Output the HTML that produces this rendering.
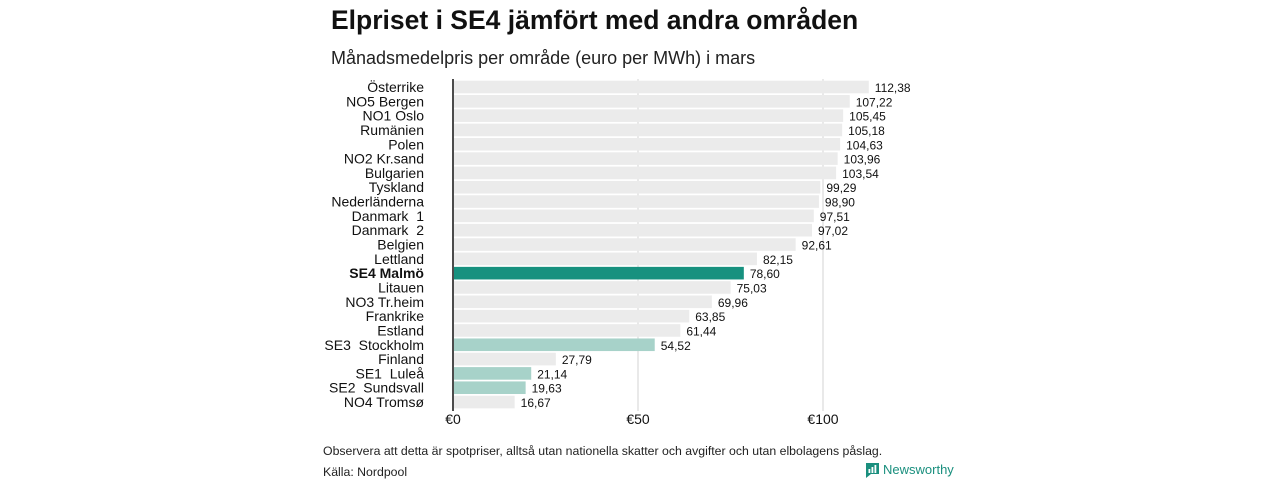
<!DOCTYPE html>
<html><head><meta charset="utf-8"><style>
body{margin:0;background:#fff;width:1280px;height:480px;overflow:hidden;font-family:"Liberation Sans",sans-serif}
</style></head><body>
<svg width="1280" height="480" xmlns="http://www.w3.org/2000/svg">
<text x="331" y="29" font-size="26.5" font-weight="bold" fill="#111">Elpriset i SE4 jämfört med andra områden</text>
<text x="331" y="64" font-size="18" fill="#222">Månadsmedelpris per område (euro per MWh) i mars</text>
<g id="grid"></g>
<g id="bars"></g>
<line x1="453" x2="453" y1="79" y2="411" stroke="#111" stroke-width="1.5"/>
<g id="ticks"></g>
<text x="323" y="455" font-size="12.3" fill="#222">Observera att detta är spotpriser, alltså utan nationella skatter och avgifter och utan elbolagens påslag.</text>
<text x="323" y="476" font-size="12.3" fill="#222">Källa: Nordpool</text>
<g>
<path d="M866 463h13v11h-8l-5 4z" fill="#1a8f7e"/>
<rect x="868.5" y="469" width="1.8" height="4" fill="#fff"/><rect x="871.5" y="467" width="1.8" height="6" fill="#fff"/><rect x="874.5" y="465" width="1.8" height="8" fill="#fff"/>
<text x="883" y="474" font-size="13" fill="#1a8f7e">Newsworthy</text>
</g>
</svg>
<script>
const categories=["Österrike","NO5 Bergen","NO1 Oslo","Rumänien","Polen","NO2 Kr.sand","Bulgarien","Tyskland","Nederländerna","Danmark\u00a0\u00a01","Danmark\u00a0\u00a02","Belgien","Lettland","SE4 Malmö","Litauen","NO3 Tr.heim","Frankrike","Estland","SE3\u00a0\u00a0Stockholm","Finland","SE1\u00a0\u00a0Luleå","SE2\u00a0\u00a0Sundsvall","NO4 Tromsø"];
const values=[112.38,107.22,105.45,105.18,104.63,103.96,103.54,99.29,98.90,97.51,97.02,92.61,82.15,78.60,75.03,69.96,63.85,61.44,54.52,27.79,21.14,19.63,16.67];
const valueLabels=["112,38","107,22","105,45","105,18","104,63","103,96","103,54","99,29","98,90","97,51","97,02","92,61","82,15","78,60","75,03","69,96","63,85","61,44","54,52","27,79","21,14","19,63","16,67"];
const tickValues=[0,50,100];
const tickLabels=["€0","€50","€100"];
const NS="http://www.w3.org/2000/svg";
const x=v=>453+v*3.7;
const y=i=>87+i*14.32;
function mk(t,a,p){const e=document.createElementNS(NS,t);for(const k in a)e.setAttribute(k,a[k]);p.appendChild(e);return e;}
const grid=document.getElementById('grid'),bars=document.getElementById('bars'),ticks=document.getElementById('ticks');
tickValues.forEach((v,i)=>{
 if(v>0){const l=mk('line',{x1:x(v),x2:x(v),y1:79,y2:411,stroke:'#e2e2e2','stroke-width':1.5},grid);
 
 }
 const t=mk('text',{x:x(v),y:424,'font-size':14,'text-anchor':'middle',fill:'#111'},ticks);
 
 
 t.textContent=tickLabels[i];
});
categories.forEach((c,i)=>{
 const se4=c==="SE4 Malmö";
 const other=/^SE[123]/.test(c);
 const fill=se4?'#17917f':other?'#a7d2c9':'#ebebeb';
 const r=mk('rect',{x:454,y:y(i)-6.3,width:x(values[i])-454,height:12.6,fill:fill},bars);
 
 
 const l=mk('text',{x:424,y:y(i)+5,'font-size':14,'text-anchor':'end',fill:'#111','font-weight':se4?'bold':'normal'},bars);
 
 
 l.textContent=c;
 const v=mk('text',{x:x(values[i])+6,y:y(i)+5,'font-size':12,fill:'#111'},bars);
 
 
 v.textContent=valueLabels[i];
});
</script>
</body></html>
